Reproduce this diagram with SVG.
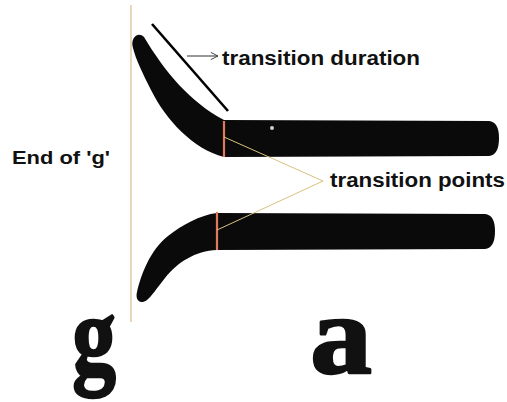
<svg xmlns="http://www.w3.org/2000/svg" width="507" height="402" viewBox="0 0 507 402">
  <defs>
    <style>
      .lbl { font-family: "Liberation Sans", Arial, sans-serif; font-weight: bold; fill: #111; }
      .glyph { font-family: "Liberation Serif", "Times New Roman", serif; font-weight: bold; fill: #111; stroke: #111; stroke-width: 2.5; stroke-linejoin: round; }
      .ink { fill: #0a0a0a; }
      .mark { stroke: #e07a5a; stroke-width: 2.2; fill: none; }
      .pointer { stroke: #d9c27e; stroke-width: 1; fill: none; }
    </style>
    <marker id="open-arrow" viewBox="0 0 10 10" refX="9" refY="5" markerWidth="9" markerHeight="9" orient="auto" markerUnits="userSpaceOnUse">
      <path d="M1 1 L9 5 L1 9" fill="none" stroke="#333" stroke-width="1"/>
    </marker>
  </defs>
  <rect width="507" height="402" fill="#ffffff"/>

  <g id="boundary-line">
    <line x1="131" y1="5" x2="131" y2="322" stroke="#e2ccae" stroke-width="1.6"/>
  </g>

  <g id="stroke-top">
    <path class="ink" d="M 224 120 L 489 121 Q 499 122 499 138 Q 499 155 489 156 L 224 157 C 193 149 166 120 151 90 C 143 74 136 60 133 48 C 130 38 138 31 144 37 C 165 72 190 102 224 120 Z"/>
    <circle cx="272" cy="128" r="2" fill="#cfcfcf"/>
  </g>

  <g id="stroke-bottom">
    <path class="ink" d="M 217 213 L 485 214 Q 495 215 495 231 Q 495 248 485 249 L 217 250 C 195 251 178 262 165 278 C 157 288 151 297 147 300 C 140 305 135 300 137 292 C 141 275 150 250 168 236 C 182 225 200 215 217 213 Z"/>
  </g>

  <g id="transition-marks">
    <line class="mark" x1="224" y1="121" x2="224" y2="157"/>
    <line class="mark" x1="217" y1="212" x2="217" y2="250"/>
  </g>

  <g id="duration-line">
    <line x1="152" y1="24" x2="228" y2="111" stroke="#000" stroke-width="2.6"/>
  </g>

  <g id="connectors">
    <line x1="187" y1="56" x2="218" y2="56" stroke="#333" stroke-width="1" marker-end="url(#open-arrow)"/>
    <line class="pointer" x1="224" y1="137" x2="323" y2="181"/>
    <line class="pointer" x1="217" y1="230" x2="323" y2="181"/>
  </g>

  <g id="label-duration">
    <text class="lbl" x="222" y="65" font-size="20" textLength="198" lengthAdjust="spacingAndGlyphs">transition duration</text>
  </g>

  <g id="label-points">
    <text class="lbl" x="330" y="187" font-size="20" textLength="175" lengthAdjust="spacingAndGlyphs">transition points</text>
  </g>

  <g id="label-end-g">
    <text class="lbl" x="12" y="164" font-size="18" textLength="98" lengthAdjust="spacingAndGlyphs">End of 'g'</text>
  </g>

  <g id="letter-g">
    <text class="glyph" x="94" y="373" font-size="112" text-anchor="middle" transform="translate(94 0) scale(0.78 1) translate(-94 0)">g</text>
  </g>

  <g id="letter-a">
    <text class="glyph" x="341" y="373" font-size="112" text-anchor="middle" transform="translate(341 0) scale(1.1 1) translate(-341 0)">a</text>
  </g>
</svg>
